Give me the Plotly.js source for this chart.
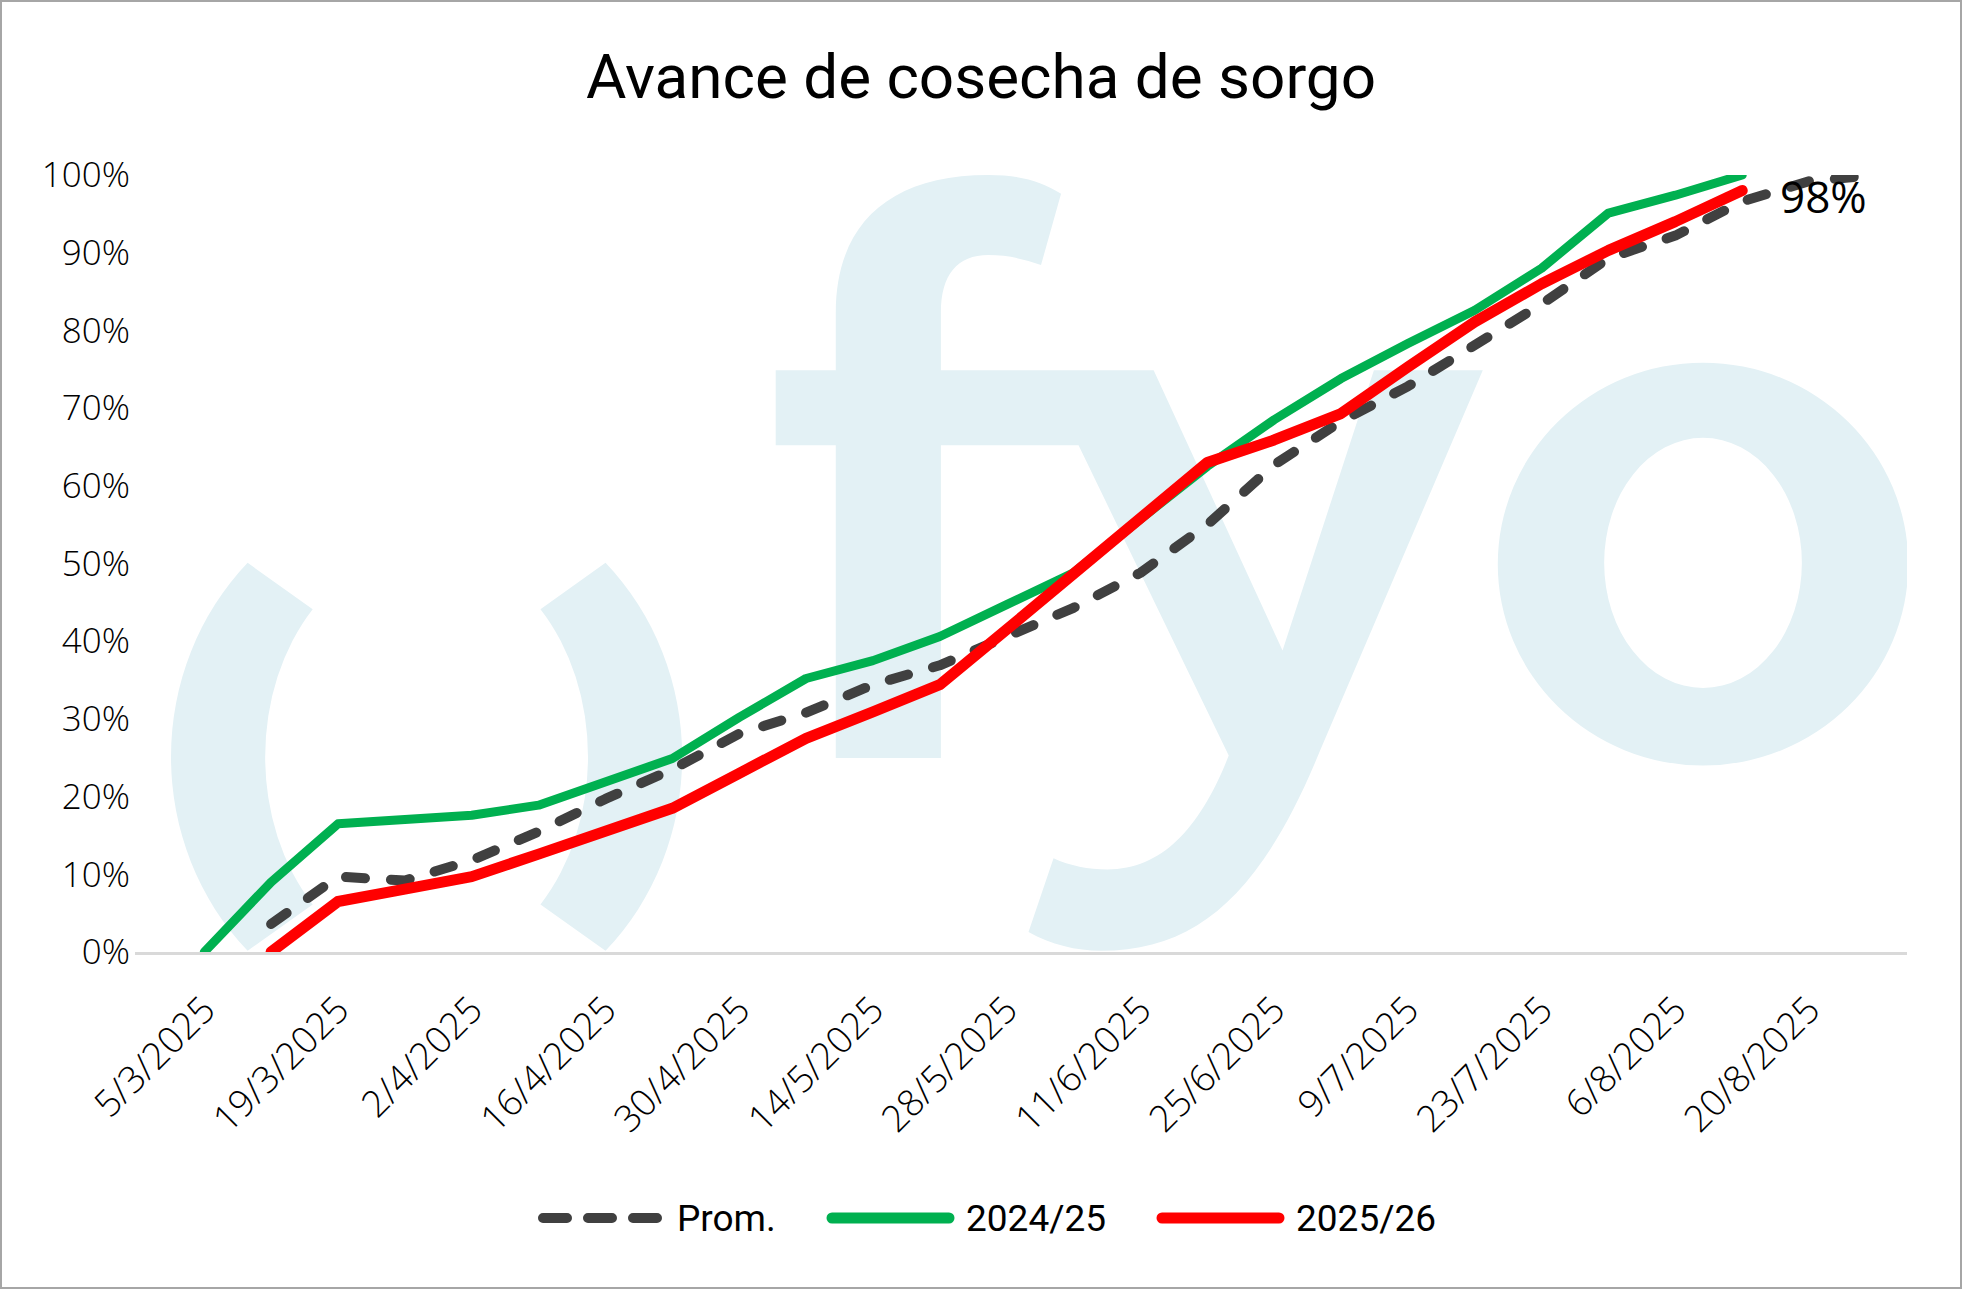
<!DOCTYPE html>
<html><head><meta charset="utf-8">
<script src="https://cdn.plot.ly/plotly-3.0.1.min.js"></script>
<style>
html,body{margin:0;padding:0;background:#fff;}
#frame{position:absolute;left:0;top:0;width:1962px;height:1289px;box-sizing:border-box;border:2px solid #a6a6a6;background:#fff;}
#chart{width:1958px;height:1285px;}
.scatterlayer .js-line{stroke-linecap:round;stroke-linejoin:round;}
.shapelayer path{stroke-linecap:round;}
</style></head>
<body><div id="frame"><div id="chart"></div></div>
<script>
// ---------- data ----------
const chartTitle = 'Avance de cosecha de sorgo';
const dates = ['2025-03-05','2025-03-12','2025-03-19','2025-03-26','2025-04-02','2025-04-09','2025-04-16','2025-04-23','2025-04-30','2025-05-07','2025-05-14','2025-05-21','2025-05-28','2025-06-04','2025-06-11','2025-06-18','2025-06-25','2025-07-02','2025-07-09','2025-07-16','2025-07-23','2025-07-30','2025-08-06','2025-08-13','2025-08-20','2025-08-27'];
const prom   = [null, 3.6, 9.7, 9.2, 11.8, 15.5, 19.7, 23.5, 28.1, 30.8, 34.4, 36.9, 40.6, 44.3, 48.8, 55.0, 62.7, 68.3, 72.8, 78.0, 83.4, 89.3, 92.2, 96.6, 99.2, 100];
const s2425  = [0, 9.0, 16.5, 17.0, 17.6, 18.9, 21.9, 24.9, 30.2, 35.2, 37.5, 40.6, 44.7, 48.8, 55.7, 62.5, 68.5, 73.8, 78.3, 82.6, 88.0, 95.1, 97.4, 100, null, null];
const s2526  = [null, 0, 6.5, 8.1, 9.7, 12.6, 15.6, 18.5, 23.0, 27.5, 30.9, 34.4, 41.5, 48.7, 55.9, 63.0, 65.9, 69.3, 75.3, 81.1, 86.0, 90.3, 94.0, 98, null, null];
const seriesNames = ['Prom.', '2024/25', '2025/26'];
const tickDates  = ['2025-03-05','2025-03-19','2025-04-02','2025-04-16','2025-04-30','2025-05-14','2025-05-28','2025-06-11','2025-06-25','2025-07-09','2025-07-23','2025-08-06','2025-08-20'];
const tickLabels = ['5/3/2025','19/3/2025','2/4/2025','16/4/2025','30/4/2025','14/5/2025','28/5/2025','11/6/2025','25/6/2025','9/7/2025','23/7/2025','6/8/2025','20/8/2025'];
const yTickVals = [0,10,20,30,40,50,60,70,80,90,100];
const yTickText = yTickVals.map(v => v + '%');

// ---------- styles ----------
const colors = ['#404040', '#00B050', '#FF0000'];
const widths = [10, 9, 11];
const dashes = ['19px,26px', 'solid', 'solid'];
const seriesData = [prom, s2425, s2526];

const traces = seriesData.map((ys, i) => ({
  type: 'scatter', mode: 'lines', x: dates, y: ys, name: seriesNames[i],
  line: {color: colors[i], width: widths[i], dash: dashes[i]},
  connectgaps: false, hoverinfo: 'skip', showlegend: false
}));

// plot area in page pixels (for decoration / legend placement)
const PA = {x0: 135, x1: 1907, y0: 175, y1: 952};
const px = X => (X - PA.x0) / (PA.x1 - PA.x0);
const py = Y => (PA.y1 - Y) / (PA.y1 - PA.y0);

// manual legend layout
const legY = 1218;
const legSampleX = [543, 832, 1162];
const legSampleLen = 117;
const legTextGap = 15;
const legDash = ['24px,21px', 'solid', 'solid'];
const legWidths = [10, 11, 11];
const shapes = seriesNames.map((n, i) => ({
  type: 'line', xref: 'paper', yref: 'paper',
  x0: px(legSampleX[i]), x1: px(legSampleX[i] + legSampleLen), y0: py(legY), y1: py(legY),
  line: {color: colors[i], width: legWidths[i], dash: legDash[i]}
}));
const annotations = seriesNames.map((n, i) => ({
  xref: 'paper', yref: 'paper', x: px(legSampleX[i] + legSampleLen + legTextGap), y: py(legY),
  xanchor: 'left', yanchor: 'middle', showarrow: false, text: n,
  font: {family: 'Roboto, sans-serif', size: 37, color: '#000'}
}));
// data label on last point of 2025/26
let lastIdx = -1;
s2526.forEach((v, i) => { if (v !== null) lastIdx = i; });
annotations.push({
  xref: 'x', yref: 'y', x: dates[lastIdx], y: s2526[lastIdx], text: s2526[lastIdx] + '%',
  xanchor: 'left', yanchor: 'middle', xshift: 36, yshift: -5, showarrow: false,
  font: {family: 'Open Sans, sans-serif', size: 44, color: '#000', weight: 400}
});

// watermark logo (background)
const wm = '<svg xmlns="http://www.w3.org/2000/svg" viewBox="108 140 1416 621" preserveAspectRatio="none"><g fill="#e3f1f5">' +
 '<path d="M198,450 A204,217 0 0 0 198,760 L250,723 A129,166.5 0 0 1 250,487 Z"/>' +
 '<path d="M484,450 A204,217 0 0 1 484,760 L432,723 A129,166.5 0 0 0 432,487 Z"/>' +
 '<path d="M668,606 L668,250 C668,180 710,140 790,140 C815,140 832,145 848,155 L832,212 C818,207 805,204 790,204 C765,204 752,220 752,250 L752,606 Z"/>' +
 '<path d="M620,296 L922,296 L1025,520 L1098,296 L1185,296 L1055,600 C1010,710 960,760 880,760 C860,760 840,755 822,745 L842,686 C855,692 870,695 885,695 C930,695 960,660 982,604 L862,356 L620,356 Z"/>' +
 '<path fill-rule="evenodd" d="M1197,451 A164,161 0 1 0 1525,451 A164,161 0 1 0 1197,451 Z M1282,450 A79,100 0 1 1 1440,450 A79,100 0 1 1 1282,450 Z"/>' +
 '</g></svg>';

const xTickFont = {family: 'Open Sans, sans-serif', size: 37, color: '#000', weight: 300};
const yTickFont = {family: 'Open Sans, sans-serif', size: 35, color: '#000', weight: 300};

const layout = {
  width: 1958, height: 1285,
  margin: {l: 133, r: 53, t: 173, b: 335, pad: 0},
  paper_bgcolor: '#ffffff', plot_bgcolor: 'rgba(0,0,0,0)',
  showlegend: false,
  title: {text: chartTitle, x: 0.5, xanchor: 'center', xref: 'container', yref: 'container', y: 1 - 74/1285, yanchor: 'middle',
          font: {family: 'Roboto, sans-serif', size: 62, color: '#000'}},
  xaxis: {type: 'date', range: ['2025-02-25 18:00', '2025-08-30 06:00'], tickmode: 'array',
          tickvals: tickDates, ticktext: tickLabels, tickangle: -45, ticks: '', showgrid: false, zeroline: false,
          showline: true, linecolor: '#d9d9d9', linewidth: 3, layer: 'below traces', tickfont: xTickFont,
          ticklabelstandoff: 18},
  yaxis: {range: [0, 100], tickmode: 'array', tickvals: yTickVals, ticktext: yTickText, ticks: '', showgrid: false,
          zeroline: false, showline: false, tickfont: yTickFont, ticklabelstandoff: 4},
  images: [{source: 'data:image/svg+xml;charset=utf-8,' + encodeURIComponent(wm), xref: 'paper', yref: 'paper',
            x: 0, y: 1, sizex: 1, sizey: 1, xanchor: 'left', yanchor: 'top', sizing: 'stretch', layer: 'below'}],
  shapes: shapes,
  annotations: annotations
};

Plotly.newPlot('chart', traces, layout, {staticPlot: true, displayModeBar: false});
</script>
</body></html>
